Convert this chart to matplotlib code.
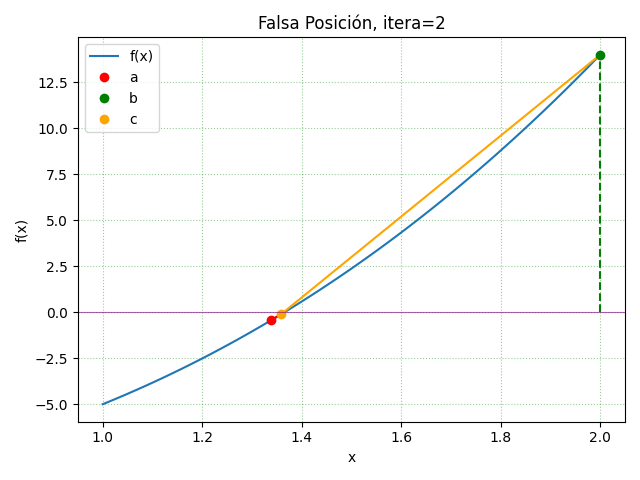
import numpy as np
import matplotlib

matplotlib.use("Agg")
import matplotlib.pyplot as plt

coefs = [1, 4, 0, -10]  # f(x) = x^3 + 4x^2 - 10
x_lo, x_hi = 1.0, 2.0
a = 1.3386
b = 2.0
c = 1.3585
itera = 2

f = np.poly1d(coefs)
xs = np.linspace(x_lo, x_hi, 101)

fig, ax = plt.subplots(figsize=(6.4, 4.8), dpi=100)
ax.plot(xs, f(xs), label="f(x)")
ax.plot([a, c], [f(a), f(c)], color="red")
ax.plot([c, b], [f(c), f(b)], color="orange")
ax.plot(a, f(a), "o", color="red", label="a")
ax.plot(b, f(b), "o", color="green", label="b")
ax.plot(c, f(c), "o", color="orange", label="c")
ax.plot([b, b], [0, f(b)], "--", color="green")
ax.axhline(0, color="purple", linewidth=0.8, alpha=0.6)
ax.grid(True, color="gray", alpha=0.6)
ax.grid(True, color="green", linestyle=":", alpha=0.4)
ax.set_xlabel("x")
ax.set_ylabel("f(x)")
ax.set_title(f"Falsa Posición, itera={itera}")
ax.legend(loc="upper left")
fig.tight_layout()
fig.savefig("out.png")
